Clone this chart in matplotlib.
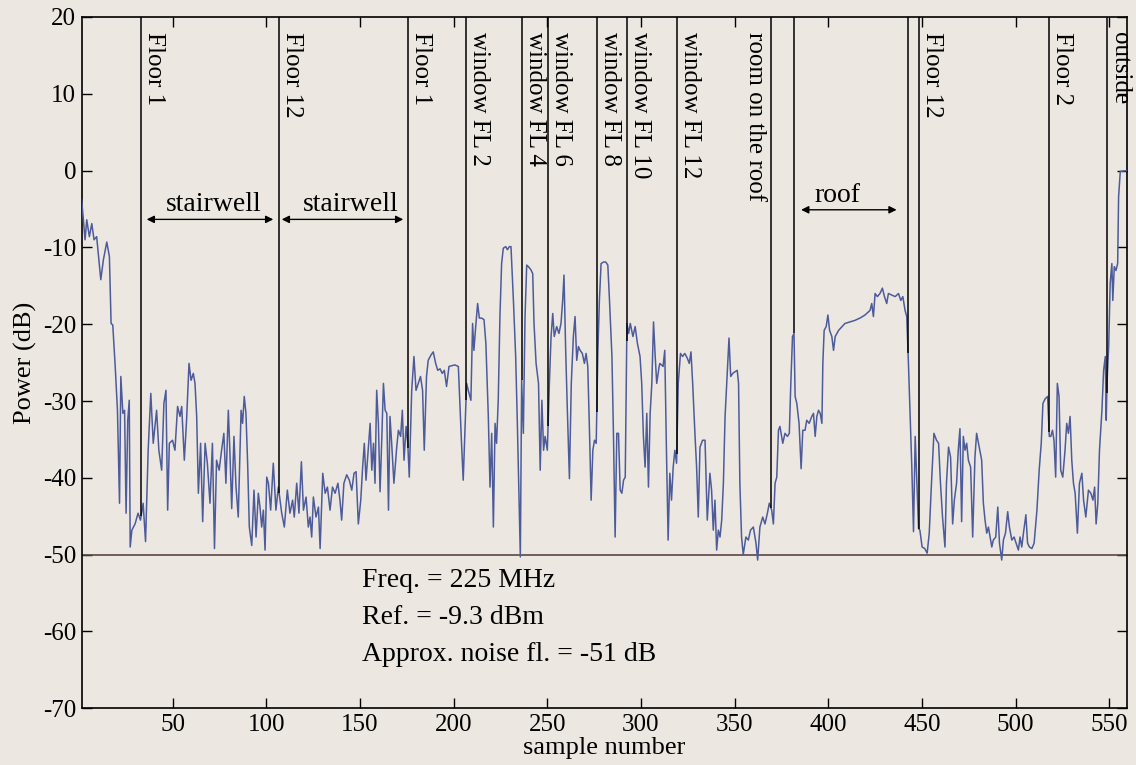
import numpy as np
import matplotlib
matplotlib.use('Agg')
import matplotlib.pyplot as plt

sample_num = [
    1.4, 3.2, 4.1, 5.5, 6.8, 8.0, 9.4, 11.6, 13.0, 14.8,
    16.2, 17.1, 18.0, 19.3, 20.5, 21.6, 22.3, 23.4, 24.3, 25.1,
    26.0, 26.8, 27.3, 28.2, 29.9, 31.5, 32.8, 34.2, 35.5, 36.9,
    38.3, 39.6, 41.4, 42.6, 44.1, 45.3, 46.4, 47.3, 48.2, 49.9,
    51.2, 52.6, 53.9, 54.8, 56.2, 57.4, 58.7, 59.8, 61.0, 61.9,
    62.8, 63.7, 64.9, 66.0, 67.3, 68.5, 69.9, 71.2, 72.3, 73.4,
    74.8, 76.1, 77.3, 78.4, 79.7, 80.5, 81.5, 82.7, 83.8, 85.0,
    86.5, 87.3, 88.2, 89.1, 90.0, 90.9, 92.2, 93.4, 94.5, 95.7,
    96.6, 97.5, 98.4, 99.3, 100.2, 101.1, 102.3, 103.7, 105.1, 106.4,
    108.2, 109.6, 111.2, 112.6, 114.0, 114.9, 116.2, 117.4, 118.7, 119.8,
    121.2, 122.4, 123.3, 124.2, 125.1, 126.5, 127.8, 128.7, 130.1, 131.4,
    132.6, 134.0, 135.3, 136.7, 138.2, 139.3, 140.2, 141.4, 142.9, 144.3,
    145.6, 146.8, 147.9, 149.1, 150.4, 151.4, 152.3, 153.2, 154.5, 155.4,
    156.3, 157.2, 158.0, 158.9, 159.8, 160.7, 161.6, 162.5, 163.4, 164.3,
    165.2, 166.0, 166.9, 168.1, 169.6, 170.5, 171.7, 172.6, 173.5, 174.6,
    175.5, 176.3, 177.6, 178.8, 179.9, 181.1, 182.3, 183.4, 184.3, 185.5,
    186.4, 187.9, 189.1, 190.4, 191.5, 192.7, 193.9, 195.0, 196.2, 197.5,
    198.9, 200.7, 202.5,
    204.2, 205.1, 206.0, 206.9, 207.8, 209.2, 210.1, 210.8, 211.9, 212.8,
    213.7, 214.9, 216.2, 217.2, 218.5, 219.4, 220.3, 221.2, 222.1, 222.9,
    223.8, 224.7, 225.6, 226.5, 227.8, 228.7, 229.7, 230.6, 231.9, 233.1,
    234.0, 234.9, 235.6, 236.3, 237.2, 238.1, 239.0, 239.9, 241.2, 242.2,
    242.9, 244.0, 245.3, 246.2, 247.1, 248.0, 248.8, 250.0, 251.1, 252.0,
    252.9, 253.7, 255.0, 256.2, 257.3, 258.2, 258.9, 259.8, 260.7, 261.8,
    262.8, 263.9, 264.8, 265.7, 266.6, 267.5, 268.7, 269.8, 270.7, 271.6,
    272.5, 273.4, 274.3, 275.2, 276.1, 277.0, 277.8, 278.7, 280.0, 281.2,
    282.3, 283.2, 284.5, 285.3, 286.2, 287.1, 288.0, 288.9, 289.8, 290.7,
    291.6, 292.5, 293.4, 294.3, 295.7, 296.9, 298.1, 299.5, 300.4, 301.3,
    302.2, 303.1, 304.0, 304.9, 305.8, 306.7, 307.6, 308.4, 309.7,
    310.1, 311.8, 312.7, 313.6, 314.5, 315.4, 316.3, 317.2, 318.1, 319.0,
    319.9, 321.1, 322.2, 323.4, 324.7, 325.8, 326.7, 327.6, 328.8, 329.7,
    330.6, 331.5, 332.9, 334.2, 335.4, 336.8, 337.7, 338.6, 339.5, 340.4,
    341.3, 342.2, 343.1, 344.0, 344.9, 345.8, 347.0, 347.9, 349.0, 350.1,
    351.4, 352.1, 352.8, 353.7, 354.6, 356.0, 357.3, 358.5, 360.0, 361.4,
    362.3, 363.5, 365.0, 366.2, 367.5, 368.5, 369.8, 370.7, 371.6, 372.5,
    373.4, 374.2, 375.7, 376.9, 378.2, 379.2, 380.0, 380.9, 381.7, 382.3,
    383.2, 384.4, 385.5, 386.4, 387.6, 388.5, 389.8, 391.2, 392.1, 393.0,
    393.9, 394.8, 395.7, 396.6, 397.1, 397.8, 398.9, 399.8, 400.7, 401.9,
    402.8, 403.7, 405.5,
    408.9, 411.6, 414.2, 416.9, 419.6, 422.3, 423.2, 424.1, 425.0, 426.2,
    427.6, 428.9, 430.0, 431.2, 432.1, 433.9, 435.7, 437.5, 438.7, 439.8,
    441.0, 441.9, 442.8, 443.7, 444.6, 445.5, 446.4, 447.3, 448.2, 448.9,
    450.1, 451.5, 452.8, 453.9, 455.1, 456.4, 457.8, 458.9, 459.9, 461.0,
    462.3, 463.1, 464.2, 465.3, 466.4, 467.3, 468.5, 469.4, 470.3, 471.2,
    472.1, 473.0, 473.9, 474.8, 476.0, 477.1, 478.3, 479.2, 480.6, 481.9,
    482.8, 483.7, 484.6, 485.5, 486.4, 487.3, 488.1, 489.4, 490.5, 491.4,
    492.6, 493.5, 494.6, 495.8, 496.7, 498.0, 499.2, 500.3, 501.5, 502.4,
    503.3, 504.2, 505.5, 506.4, 507.4, 508.7, 509.9, 511.4, 512.6, 513.7,
    514.6, 515.8, 517.1, 518.0, 518.8, 519.7, 520.5, 521.4, 522.3, 523.2,
    524.1, 525.2, 526.4, 527.3, 528.2, 529.1, 530.0, 530.9, 531.8, 533.0,
    534.1, 535.4, 536.3, 537.5, 538.9, 540.2, 541.3, 542.2, 543.0, 543.9,
    544.8, 546.1, 547.0, 547.9, 548.4, 548.8, 549.7, 550.5, 551.4, 551.9,
    552.7, 553.6, 554.5, 555.0, 555.9, 559.5,
]
power_db = [
    -3.8, -9.0, -6.4, -8.6, -6.9, -9.0, -8.6, -14.2, -11.6, -9.3,
    -11.2, -19.9, -20.1, -25.5, -31.2, -43.3, -26.8, -31.6, -31.2, -44.6,
    -32.5, -29.9, -49.0, -46.8, -46.0, -44.6, -45.5, -43.3, -48.3, -36.4,
    -29.0, -35.5, -31.2, -36.4, -39.0, -30.3, -28.6, -44.2, -35.5, -35.1,
    -36.4, -30.7, -32.0, -30.7, -37.7, -32.5, -25.1, -27.3, -26.4, -27.7,
    -32.0, -42.0, -35.5, -45.7, -35.5, -38.1, -43.3, -35.5, -49.2, -37.7,
    -39.0, -36.4, -34.2, -40.7, -31.2, -36.4, -44.0, -34.6, -41.2, -45.1,
    -31.2, -32.9, -29.4, -31.6, -38.1, -46.4, -48.8, -41.6, -47.7, -42.0,
    -43.8, -46.4, -44.2, -49.4, -39.9, -40.7, -44.2, -38.1, -44.2, -41.2,
    -44.6, -46.4, -41.6, -44.6, -42.9, -45.1, -40.7, -44.6, -37.9, -44.2,
    -42.5, -46.4, -45.1, -47.7, -42.5, -45.1, -43.8, -49.2, -39.4, -42.0,
    -41.2, -44.2, -41.2, -42.0, -40.7, -42.9, -45.5, -40.7, -39.6, -40.3,
    -41.6, -39.4, -39.2, -46.0, -42.9, -38.6, -35.5, -40.3, -36.0, -32.9,
    -39.0, -35.5, -40.7, -28.6, -32.9, -41.8, -35.1, -27.7, -31.2, -31.6,
    -44.2, -32.0, -35.5, -40.7, -36.0, -33.8, -34.6, -31.2, -37.7, -33.3,
    -35.5, -39.9, -28.6, -24.2, -28.6, -27.7, -26.8, -28.6, -36.4, -26.8,
    -24.7, -24.0, -23.6, -25.1, -26.0, -25.8, -26.4, -26.0, -28.1, -25.5,
    -25.4, -25.3, -25.5,
    -35.5, -40.3, -34.2, -27.7, -28.6, -29.9, -19.9, -23.4, -19.9, -17.3,
    -19.2, -19.2, -19.4, -22.5, -32.0, -41.2, -34.2, -46.4, -32.9, -35.5,
    -29.9, -19.0, -12.1, -10.1, -9.9, -10.3, -9.9, -9.9, -16.9, -24.2,
    -32.9, -42.9, -50.3, -27.3, -34.2, -19.0, -12.3, -12.5, -12.9, -13.4,
    -19.9, -25.1, -27.7, -39.0, -29.9, -36.4, -34.6, -36.4, -27.7, -21.6,
    -18.6, -21.6, -20.3, -21.2, -19.9, -16.9, -13.6, -23.4, -31.2, -40.1,
    -27.7, -21.6, -19.0, -24.7, -22.9, -23.4, -23.8, -25.1, -23.8, -25.5,
    -33.8, -42.9, -36.4, -35.1, -35.5, -23.4, -16.9, -12.1, -11.9, -11.9,
    -12.3, -16.9, -24.2, -34.2, -47.7, -34.2, -34.2, -41.6, -42.0, -40.3,
    -39.9, -19.9, -21.2, -19.9, -21.6, -20.3, -22.5, -24.2, -27.7, -34.6,
    -38.6, -31.6, -41.2, -31.6, -27.7, -19.7, -24.2, -27.7, -25.5,
    -25.1, -25.5, -23.4, -36.4, -48.1, -39.4, -42.9, -38.6, -36.4, -38.1,
    -27.7, -23.8, -24.2, -23.8, -24.4, -25.1, -23.6, -27.7, -34.2, -38.6,
    -45.1, -36.0, -35.1, -35.1, -45.5, -39.4, -41.6, -46.8, -42.9, -49.4,
    -46.8, -47.7, -45.5, -40.7, -32.0, -27.7, -21.8, -26.8, -26.4, -26.2,
    -26.0, -27.7, -40.7, -47.7, -50.0, -47.7, -48.1, -46.8, -46.4, -48.5,
    -50.7, -46.4, -45.1, -46.0, -44.6, -43.3, -44.2, -46.0, -40.7, -39.9,
    -33.8, -33.3, -35.5, -34.2, -34.6, -34.2, -27.7, -21.6, -21.2, -29.4,
    -30.3, -32.9, -38.8, -33.8, -33.8, -32.5, -32.9, -32.0, -31.6, -34.6,
    -32.0, -31.2, -31.6, -32.9, -25.1, -20.8, -20.3, -18.8, -20.8, -21.6,
    -23.4, -21.6, -20.8,
    -19.9, -19.7, -19.5, -19.2, -18.8, -18.2, -17.3, -19.0, -16.0, -16.4,
    -16.0, -15.3, -16.4, -17.3, -16.0, -16.2, -16.4, -16.0, -16.9, -16.4,
    -18.2, -19.0, -25.1, -32.0, -38.6, -47.0, -34.6, -40.7, -46.6, -46.8,
    -49.0, -49.2, -49.8, -47.2, -40.7, -34.2, -35.1, -35.5, -40.7, -45.1,
    -49.0, -40.7, -36.0, -37.3, -46.0, -42.9, -40.7, -36.4, -33.6, -45.7,
    -34.6, -36.4, -35.5, -37.7, -38.6, -47.7, -37.3, -34.2, -36.0, -37.7,
    -43.3, -45.5, -47.2, -46.4, -47.7, -49.0, -48.1, -47.7, -43.8, -48.5,
    -50.7, -48.1, -47.2, -44.4, -46.4, -48.1, -47.7, -48.5, -49.4, -47.7,
    -49.0, -47.2, -44.8, -48.5, -49.0, -49.2, -48.5, -44.2, -39.0, -35.5,
    -30.3, -29.7, -29.4, -34.6, -34.6, -33.8, -35.1, -39.9, -27.7, -29.4,
    -39.0, -39.9, -36.4, -32.9, -34.2, -32.0, -37.7, -40.7, -42.0, -47.2,
    -40.7, -39.4, -42.9, -45.1, -41.6, -42.0, -42.9, -41.2, -46.0, -43.3,
    -36.4, -31.2, -26.0, -24.2, -32.5, -27.7, -22.9, -14.7, -12.1, -16.9,
    -12.5, -13.0, -12.1, -3.4, -0.1, 0.0,
]
assert len(sample_num) == len(power_db)

# sample numbers where a location marker line was drawn
event_x = [33.1, 106.8, 175.6, 206.6, 236.3, 250.4, 276.4, 292.4, 319.1,
           369.4, 381.7, 442.6, 448.4, 517.9, 548.7]

# rotated location labels (text to the right of the marker, except "room on the roof")
label_x = [33.1, 106.8, 175.6, 206.6, 236.3, 250.4, 276.4, 292.4, 319.1,
           369.4, 448.4, 517.9, 548.7]
label_text = ['Floor 1', 'Floor 12', 'Floor 1', 'window FL 2', 'window FL 4',
              'window FL 6', 'window FL 8', 'window FL 10', 'window FL 12',
              'room on the roof', 'Floor 12', 'Floor 2', 'outside']

# double arrow regions
region_name = ['stairwell', 'stairwell', 'roof']
region_start = [36.1, 108.2, 385.5]
region_end = [103.7, 173.1, 436.5]
region_level = [-6.35, -6.35, -5.1]
region_text_x = [71.9, 144.9, 405.0]

noise_floor = -50
notes = ['Freq. = 225 MHz', 'Ref. = -9.3 dBm', 'Approx. noise fl. = -51 dB']
note_y = [-54.2, -59.0, -63.8]

bg = '#ece8e1'
plt.rcParams['font.family'] = ['Liberation Serif', 'DejaVu Serif']
plt.rcParams['axes.unicode_minus'] = False

fig = plt.figure(figsize=(11.36, 7.65), dpi=100, facecolor=bg)
ax = fig.add_axes([0.0719, 0.0741, 0.9202, 0.9037])
ax.set_facecolor(bg)

ax.plot(sample_num, power_db, color='#4d5b9b', lw=1.1, zorder=3)
ax.axhline(noise_floor, color='#5a4646', lw=1.2, zorder=2)

# marker lines run from the top of the plot down to the trace
bottoms = np.interp(event_x, sample_num, power_db)
ax.vlines(event_x, bottoms, 20, colors='k', lw=1.1, zorder=4)

for x, lab in zip(label_x, label_text):
    if lab == 'room on the roof':
        ax.text(x - 2.6, 18.0, lab, rotation=270, ha='right', va='top', fontsize=18)
    else:
        ax.text(x + 1.2, 18.0, lab, rotation=270, ha='left', va='top', fontsize=18)

for name, x0, x1, lvl, tx in zip(region_name, region_start, region_end,
                                 region_level, region_text_x):
    ax.annotate('', xy=(x1, lvl), xytext=(x0, lvl),
                arrowprops=dict(arrowstyle='<|-|>', color='k', lw=1.0,
                                mutation_scale=11, shrinkA=0, shrinkB=0))
    ax.text(tx, lvl + 1.05, name, ha='center', va='baseline', fontsize=20)

for txt, y in zip(notes, note_y):
    ax.text(150.9, y, txt, ha='left', va='baseline', fontsize=20)

ax.set_xlim(1.4, 559.5)
ax.set_ylim(-70, 20)
ax.set_xticks(np.arange(50, 551, 50))
ax.set_yticks(np.arange(-70, 21, 10))
ax.tick_params(direction='in', length=7, width=1, top=True, right=True,
               labelsize=18, pad=4)
for s in ax.spines.values():
    s.set_linewidth(1.2)

ax.set_xlabel('sample number', fontsize=19, labelpad=1)
ax.set_ylabel('Power (dB)', fontsize=19, labelpad=4)

plt.savefig('out.png', dpi=100, facecolor=bg)
plt.close()
